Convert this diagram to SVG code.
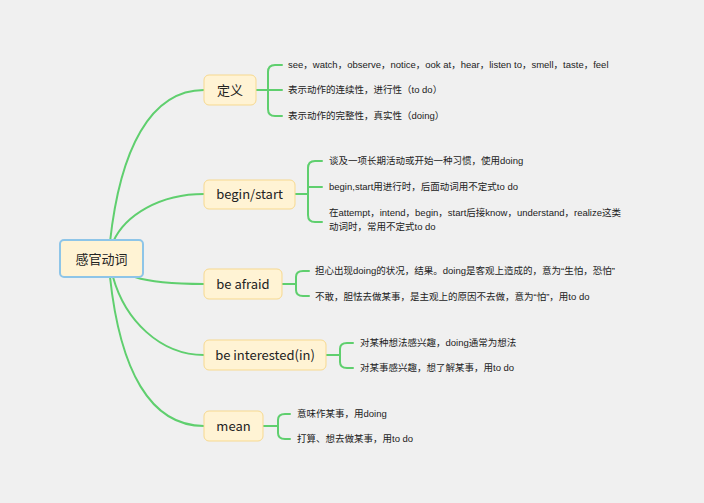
<svg xmlns="http://www.w3.org/2000/svg" width="704" height="503" viewBox="0 0 704 503">
<style>
.c{fill:none;stroke:#5fcf6e;stroke-width:2;stroke-linecap:round}
.n{fill:#fff3d4;stroke:#f7d98f;stroke-width:1}
.nt{font-family:"Noto Sans CJK SC","Liberation Sans",sans-serif;font-size:13px;fill:#222}
.t{font-family:"Liberation Sans","Noto Sans CJK SC",sans-serif;font-size:9.5px;fill:#222}
</style>
<rect width="704" height="503" fill="#f0f0f0"/>
<g id="connectors">
<path class="c" d="M110 242 C120 150,150 90,204 90"/>
<path class="c" d="M113 242 C125 215,160 194,204 194"/>
<path class="c" d="M135 277 C150 282,170 284,204 284"/>
<path class="c" d="M113 277 C125 320,160 355,204 355"/>
<path class="c" d="M110 277 C120 370,150 426,204 426"/>
<path class="c" d="M256 90 H268 M282 65 H275 Q268 65 268 72 V109 Q268 116 275 116 H282 M268 90 H282"/>
<path class="c" d="M295 194 H308 M322 161 H315 Q308 161 308 168 V215 Q308 222 315 222 H322 M308 187 H322"/>
<path class="c" d="M282 284 H296 M309 271 H303 Q296 271 296 277 V290 Q296 296 303 296 H309"/>
<path class="c" d="M326 355 H340 M353 343 H347 Q340 343 340 349 V362 Q340 368 347 368 H353"/>
<path class="c" d="M263 426 H278 M290 414 H285 Q278 414 278 420 V433 Q278 439 285 439 H290"/>
</g>
<g id="root"><rect x="60" y="240" width="83" height="37" rx="4" fill="#fff3d4" stroke="#8ec5e8" stroke-width="2"/><text x="101.5" y="264" text-anchor="middle" class="nt" font-size="15">感官动词</text></g>
<g id="n1"><rect class="n" x="204" y="75" width="52" height="30" rx="5"/><text class="nt" x="230" y="95" text-anchor="middle">定义</text>
<text class="t" x="288" y="68">see，watch，observe，notice，ook at，hear，listen to，smell，taste，feel</text>
<text class="t" x="288" y="93">表示动作的连续性，进行性（to do）</text>
<text class="t" x="288" y="119">表示动作的完整性，真实性（doing）</text></g>
<g id="n2"><rect class="n" x="204" y="180" width="91" height="29" rx="5"/><text class="nt" x="249.5" y="199" text-anchor="middle">begin/start</text>
<text class="t" x="329" y="164">谈及一项长期活动或开始一种习惯，使用doing</text>
<text class="t" x="329" y="190">begin,start用进行时，后面动词用不定式to do</text>
<text class="t" x="329" y="216">在attempt，intend，begin，start后接know，understand，realize这类</text>
<text class="t" x="329" y="230">动词时，常用不定式to do</text></g>
<g id="n3"><rect class="n" x="204" y="269" width="78" height="30" rx="5"/><text class="nt" x="243" y="289" text-anchor="middle">be afraid</text>
<text class="t" x="315" y="274">担心出现doing的状况，结果。doing是客观上造成的，意为“生怕，恐怕”</text>
<text class="t" x="315" y="300">不敢，胆怯去做某事，是主观上的原因不去做，意为“怕”，用to do</text></g>
<g id="n4"><rect class="n" x="204" y="340" width="122" height="30" rx="5"/><text class="nt" x="265" y="360" text-anchor="middle">be interested(in)</text>
<text class="t" x="360" y="346">对某种想法感兴趣，doing通常为想法</text>
<text class="t" x="360" y="371">对某事感兴趣，想了解某事，用to do</text></g>
<g id="n5"><rect class="n" x="204" y="411" width="59" height="30" rx="5"/><text class="nt" x="233.5" y="431" text-anchor="middle">mean</text>
<text class="t" x="297" y="417">意味作某事，用doing</text>
<text class="t" x="297" y="442">打算、想去做某事，用to do</text></g>
</svg>
